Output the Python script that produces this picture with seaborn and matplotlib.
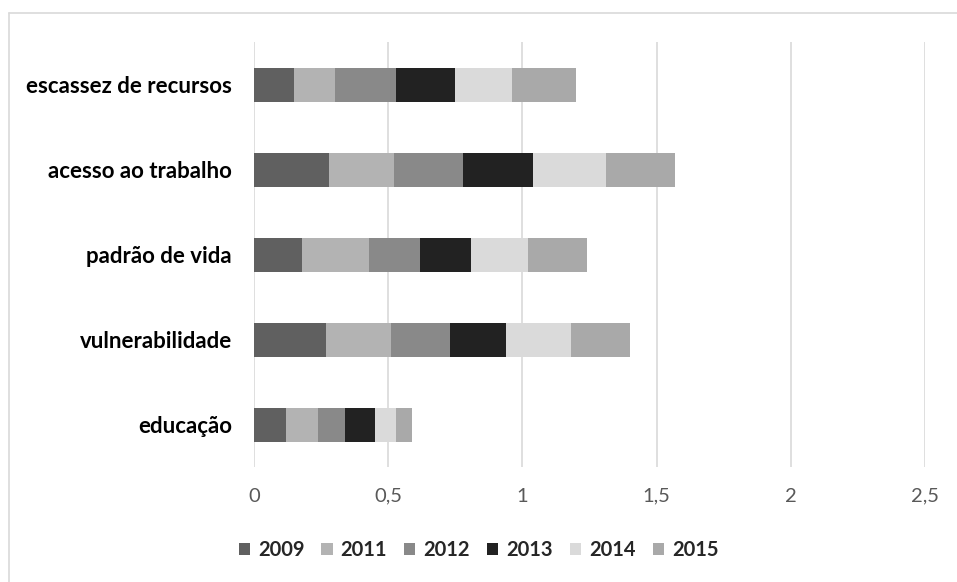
import numpy as np
import pandas as pd
import seaborn as sns
import matplotlib.pyplot as plt
from matplotlib.patches import Patch
from matplotlib.lines import Line2D

categories = ["escassez de recursos", "acesso ao trabalho", "padrão de vida",
              "vulnerabilidade", "educação"]
years = ["2009", "2011", "2012", "2013", "2014", "2015"]
v2009 = [0.15, 0.28, 0.18, 0.27, 0.12]
v2011 = [0.15, 0.24, 0.25, 0.24, 0.12]
v2012 = [0.23, 0.26, 0.19, 0.22, 0.10]
v2013 = [0.22, 0.26, 0.19, 0.21, 0.11]
v2014 = [0.21, 0.27, 0.21, 0.24, 0.08]
v2015 = [0.24, 0.26, 0.22, 0.22, 0.06]
colors = ["#606060", "#b3b3b3", "#898989", "#222222", "#dadada", "#a9a9a9"]

df = pd.DataFrame({"categoria": categories, "2009": v2009, "2011": v2011,
                   "2012": v2012, "2013": v2013, "2014": v2014, "2015": v2015})
cum = df[years].cumsum(axis=1)
cum["categoria"] = df["categoria"]

sns.set_theme(style="white")
plt.rcParams["font.family"] = ["Lato", "DejaVu Sans"]

fig = plt.figure(figsize=(9.57, 5.82), dpi=100)
ax = fig.add_axes([254 / 957, 1 - 467 / 582, (925 - 254) / 957, (467 - 42) / 582])

# stacked bars: draw largest cumulative first, earlier years on top
for year, col in reversed(list(zip(years, colors))):
    sns.barplot(data=cum, x=year, y="categoria", color=col, orient="h",
                width=0.4, ax=ax, linewidth=0, saturation=1)

ax.set_xlim(0, 2.5)
ax.set_xticks(np.arange(0, 2.51, 0.5))
ax.set_xticklabels(["0", "0,5", "1", "1,5", "2", "2,5"], fontsize=14.5, color="#595959")
ax.tick_params(axis="x", length=0, pad=15)
ax.tick_params(axis="y", length=0, pad=16)
ax.set_yticks(range(len(categories)))
ax.set_yticklabels(categories, fontsize=16, fontweight="bold", color="black")
ax.set_xlabel("")
ax.set_ylabel("")
ax.grid(axis="x", color="#d9d9d9", linewidth=1.2)
ax.set_axisbelow(True)
for s in ax.spines.values():
    s.set_visible(False)

handles = [Patch(facecolor=c, edgecolor="none") for c in colors]
leg = fig.legend(handles, years, loc="center", bbox_to_anchor=(0.5, 1 - 550 / 582),
                 ncol=6, frameon=False, handlelength=0.55, handleheight=0.55,
                 columnspacing=0.85, handletextpad=0.4,
                 prop={"weight": "bold", "size": 14.5})

# chart border (top and left edges visible)
fig.add_artist(Line2D([9 / 957, 1], [1 - 13 / 582, 1 - 13 / 582], color="#d9d9d9", linewidth=1.2))
fig.add_artist(Line2D([9 / 957, 9 / 957], [0, 1 - 13 / 582], color="#d9d9d9", linewidth=1.2))

fig.savefig("out.png", dpi=100)
